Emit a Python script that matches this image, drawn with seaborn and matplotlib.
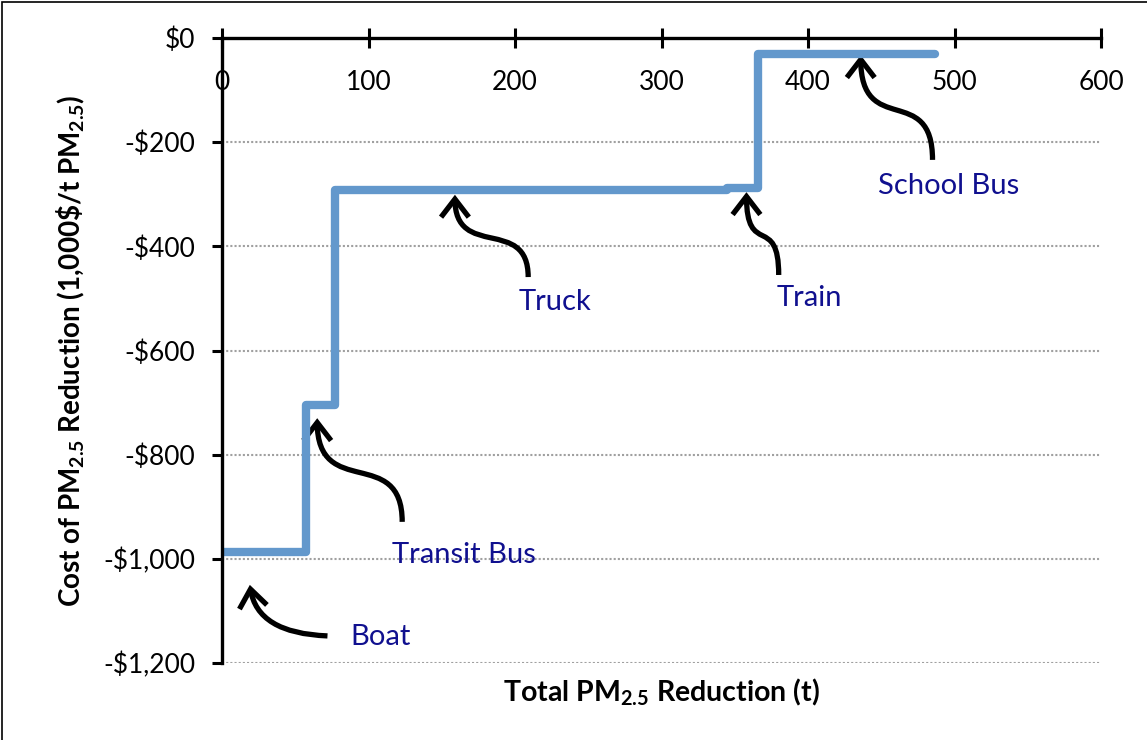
import matplotlib
matplotlib.use("Agg")
import matplotlib.pyplot as plt
import numpy as np
import pandas as pd
import seaborn as sns
from matplotlib.patches import FancyArrowPatch, Rectangle
from matplotlib.path import Path

# Step edges of the cost curve (t of PM2.5 reduced, 1,000$/t)
step_x = [0, 57, 77, 345, 366, 487]
step_cost = [-987, -705, -292, -288, -31, -31]

y_ticks = [0, -200, -400, -600, -800, -1000, -1200]
x_ticks = [0, 100, 200, 300, 400, 500, 600]

# Labels: text centre and arrow tail -> tip, all in data units
labels = ["Boat", "Transit Bus", "Truck", "Train", "School Bus"]
label_x = [108, 165, 227, 401, 496]
label_y = [-1150, -993, -507, -499, -284]
tail_x = [72, 123, 209, 380, 485]
tail_y = [-1148, -929, -459, -455, -234]
tip_x = [19, 65, 159, 358, 436]
tip_y = [-1050, -730, -301, -296, -33]

sns.set_style("white")
plt.rcParams["font.family"] = ["Lato", "DejaVu Sans"]
plt.rcParams["mathtext.fontset"] = "custom"
plt.rcParams["mathtext.rm"] = "Lato"
plt.rcParams["mathtext.bf"] = "Lato:bold"
for key in ["text.color", "axes.labelcolor", "xtick.color", "ytick.color",
            "axes.edgecolor"]:
    plt.rcParams[key] = "black"

line_color = "#6398CC"
text_color = "#10108F"

fig = plt.figure(figsize=(11.47, 7.40), dpi=100)
ax = fig.add_axes([222 / 1147, 1 - 663 / 740, (1101 - 222) / 1147, (663 - 38) / 740])

df = pd.DataFrame({"x": step_x, "cost": step_cost})
sns.lineplot(data=df, x="x", y="cost", ax=ax, drawstyle="steps-post",
             color=line_color, linewidth=6, estimator=None, sort=False,
             solid_capstyle="round", solid_joinstyle="round")

ax.set_xlim(0, 600)
ax.set_ylim(-1200, 0)
ax.set_xticks(x_ticks)
ax.set_yticks(y_ticks)
ax.set_yticklabels(["$0" if v == 0 else f"-${abs(v):,}" for v in y_ticks])
ax.set_xticklabels([str(v) for v in x_ticks])

# dotted horizontal gridlines
ax.yaxis.grid(True, color="#a0a0a0", linewidth=1.5, linestyle=(0, (1, 1)))
ax.xaxis.grid(False)

for side in ["top", "right"]:
    ax.spines[side].set_visible(False)
ax.spines["bottom"].set_position(("data", 0))
ax.spines["bottom"].set_linewidth(2.4)
ax.spines["left"].set_linewidth(2.4)
ax.spines["bottom"].set_zorder(3)

ax.tick_params(axis="x", direction="inout", length=14, width=2.2, pad=16,
               labelsize=19, bottom=True)
ax.tick_params(axis="y", direction="out", length=7, width=2.2, pad=12,
               labelsize=19, left=True)

ax.set_xlabel(r"Total PM$_{\mathbf{2.5}}$ Reduction (t)", fontsize=20.5,
              fontweight="bold")
ax.xaxis.set_label_coords(0.5, -0.021)
ax.set_ylabel(r"Cost of PM$_{\mathbf{2.5}}$ Reduction (1,000\$/t PM$_{\mathbf{2.5}}$)",
              fontsize=20, fontweight="bold", labelpad=12)

# annotation labels with curved arrows
for i, name in enumerate(labels):
    ax.text(label_x[i], label_y[i], name, color=text_color, fontsize=21,
            ha="center", va="center")
    x0, y0 = tail_x[i], tail_y[i]
    x1, y1 = tip_x[i], tip_y[i]
    if name == "Boat":
        verts = [(x0, y0), (x1 + 5, y0 + 5), (x1, y1)]
        codes = [Path.MOVETO, Path.CURVE3, Path.CURVE3]
    else:
        dy = y1 - y0
        verts = [(x0, y0), (x0, y0 + 0.75 * dy), (x1, y1 - 0.8 * dy), (x1, y1)]
        codes = [Path.MOVETO, Path.CURVE4, Path.CURVE4, Path.CURVE4]
    arrow = FancyArrowPatch(path=Path(verts, codes),
                            arrowstyle="->,head_length=0.65,head_width=0.5",
                            mutation_scale=20, color="black", linewidth=3.8,
                            capstyle="butt", joinstyle="miter")
    ax.add_patch(arrow)

# outer frame of the original (only left and top edges visible)
fig.patches.append(Rectangle((2 / 1147, -0.5), 2, 1.5 - 2 / 740, fill=False,
                             edgecolor="black", linewidth=1.2,
                             transform=fig.transFigure, figure=fig))

fig.savefig("out.png", dpi=100)
